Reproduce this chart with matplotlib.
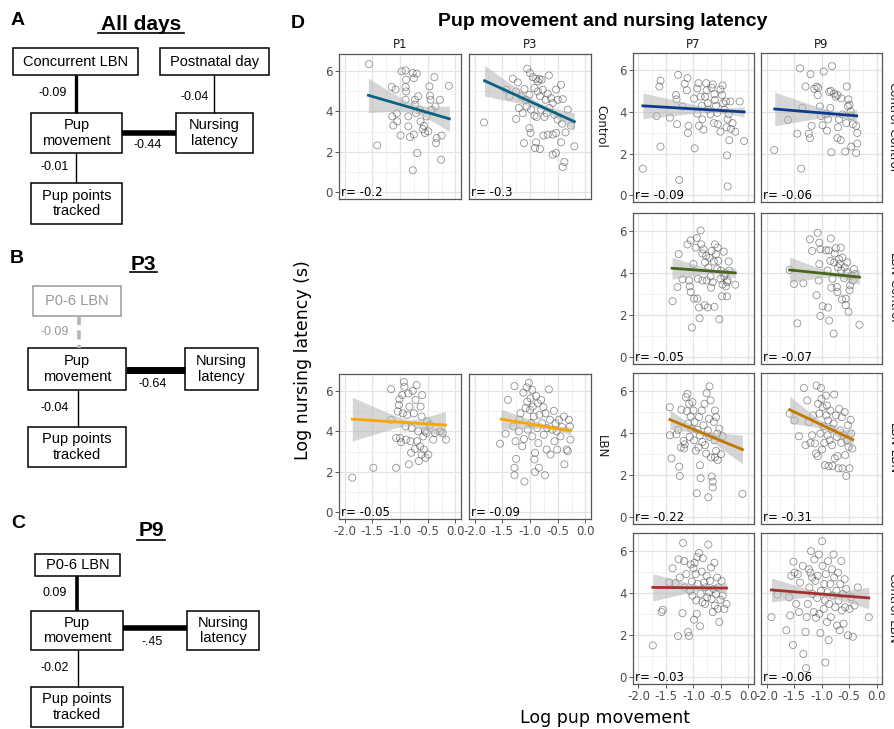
import numpy as np
import matplotlib.pyplot as plt
from matplotlib.patches import Rectangle

W, H = 895, 729

# ---------------- data ----------------
ctrl_p1_x = [-1.56, -1.41, -1.15, -1.08, -1.14, -1.12, -1.06, -1.05, -0.99, -0.97, -0.9, -0.89, -0.9, -0.89,
             -0.9, -0.85, -0.85, -0.82, -0.77, -0.75, -0.7, -0.73, -0.73, -0.71, -0.75, -0.69, -0.77, -0.67,
             -0.64, -0.63, -0.59, -0.57, -0.55, -0.52, -0.47, -0.46, -0.45, -0.49, -0.43, -0.38, -0.36, -0.34,
             -0.35, -0.28, -0.25, -0.26, -0.12]
ctrl_p1_y = [6.33, 2.32, 5.2, 5.07, 3.75, 3.3, 3.9, 3.5, 2.81, 5.97, 6.02, 5.56, 5.2, 4.98,
             4.57, 3.75, 3.26, 2.73, 5.89, 5.64, 5.86, 4.57, 4.33, 3.91, 2.85, 1.94, 1.09, 4.74,
             4.08, 3.5, 3.12, 3.29, 2.93, 3.75, 5.23, 4.77, 4.57, 3.01, 4.08, 5.69, 4.24, 2.68,
             2.43, 4.57, 2.8, 1.61, 5.26]

ctrl_p3_x = [-1.83, -1.31, -1.22, -1.1, -1.05, -1.0, -0.95, -0.89, -0.86, -0.83, -0.79, -0.66, -0.44, -1.43,
             -1.37, -1.25, -1.16, -1.07, -1.01, -0.92, -0.86, -0.82, -0.77, -0.72, -0.68, -0.62, -0.59, -0.53,
             -0.5, -0.41, -0.32, -1.2, -1.25, -1.13, -1.06, -0.98, -0.92, -0.88, -0.8, -0.74, -0.7, -0.65,
             -0.56, -0.5, -0.42, -0.36, -0.26, -1.01, -0.99, -1.11, -0.89, -0.91, -0.82, -0.76, -0.68, -0.59,
             -0.53, -0.44, -0.59, -0.53, -0.38, -0.41, -0.2]
ctrl_p3_y = [3.45, 5.61, 5.43, 5.1, 6.1, 5.89, 5.69, 5.61, 5.48, 5.59, 5.56, 5.77, 5.31, 5.07,
             4.74, 4.98, 4.74, 4.57, 4.82, 5.15, 4.98, 4.74, 5.07, 4.57, 4.87, 4.65, 4.41, 5.07,
             4.57, 4.6, 4.08, 4.16, 3.62, 3.91, 4.24, 4.08, 3.78, 3.72, 4.08, 3.72, 3.91, 4.16,
             3.83, 3.59, 3.39, 2.96, 3.29, 3.17, 2.93, 2.43, 2.47, 2.19, 2.14, 2.8, 2.85, 2.85,
             2.93, 2.47, 1.86, 1.94, 1.5, 1.25, 2.27]

lbn_p1_x = [-1.86, -1.48, -1.16, -1.16, -1.07, -1.07, -1.04, -1.02, -1.01, -1.0, -0.98, -0.96, -0.93, -0.92,
            -0.95, -0.9, -0.89, -0.87, -0.85, -0.84, -0.83, -0.81, -0.8, -0.79, -0.77, -0.75, -0.73, -0.72,
            -0.7, -0.69, -0.67, -0.66, -0.64, -0.63, -0.61, -0.6, -0.58, -0.57, -0.55, -0.54, -0.52, -0.51,
            -0.49, -0.4, -0.37, -0.28, -0.23, -0.17, -0.61, -0.46]
lbn_p1_y = [1.71, 2.2, 6.08, 4.57, 2.2, 3.67, 4.98, 5.3, 5.58, 3.67, 3.46, 5.79, 6.44, 6.2,
            4.89, 4.24, 3.59, 4.81, 5.87, 2.37, 5.22, 3.51, 2.94, 4.16, 6.0, 4.89, 3.13, 5.55,
            6.28, 3.51, 4.0, 2.53, 3.26, 5.22, 2.85, 5.79, 3.75, 3.1, 4.0, 2.69, 3.92, 4.49,
            2.85, 3.59, 3.92, 4.0, 3.92, 3.59, 4.73, 4.32]

lbn_p3_x = [-1.54, -1.4, -1.44, -1.3, -1.28, -1.26, -1.25, -1.28, -1.28, -1.2, -1.19, -1.17, -1.14, -1.12,
            -1.11, -1.1, -1.08, -1.06, -1.05, -1.04, -1.02, -1.0, -0.99, -0.98, -0.96, -0.96, -0.95, -0.93,
            -0.92, -0.91, -0.91, -0.89, -0.87, -0.86, -0.85, -0.84, -0.83, -0.8, -0.78, -0.76, -0.75, -0.73,
            -0.72, -0.7, -0.69, -0.66, -0.64, -0.63, -0.6, -0.57, -0.56, -0.54, -0.52, -0.51, -0.48, -0.45,
            -0.42, -0.39, -0.38, -0.34, -0.32, -0.3, -0.27, -0.28]
lbn_p3_y = [3.39, 5.55, 3.88, 4.24, 6.23, 3.51, 2.64, 2.2, 1.83, 4.0, 4.57, 4.89, 3.26, 5.91,
            3.62, 1.52, 5.14, 6.17, 5.47, 4.08, 6.39, 5.06, 5.63, 4.4, 6.04, 3.75, 5.22, 4.73,
            2.61, 2.94, 1.99, 5.74, 4.16, 5.38, 3.42, 2.2, 4.81, 5.55, 4.4, 5.19, 3.83, 1.83,
            4.89, 3.1, 4.16, 6.07, 4.57, 2.85, 4.08, 5.01, 3.51, 4.4, 4.0, 3.1, 4.57, 3.75,
            4.21, 4.73, 2.37, 3.1, 3.02, 4.57, 3.59, 4.24]

cc_p7_x = [-1.92, -1.67, -1.6, -1.62, -1.6, -1.43, -1.32, -1.31, -1.3, -1.28, -1.26, -1.16, -1.11, -1.12,
           -1.2, -1.09, -1.1, -0.99, -0.98, -0.93, -0.91, -0.93, -0.87, -0.85, -0.84, -0.9, -0.82, -0.77,
           -0.76, -0.79, -0.74, -0.73, -0.69, -0.67, -0.65, -0.62, -0.61, -0.59, -0.57, -0.63, -0.56, -0.51,
           -0.48, -0.46, -0.44, -0.41, -0.51, -0.38, -0.36, -0.4, -0.35, -0.39, -0.38, -0.32, -0.29, -0.24,
           -0.33, -0.16, -0.08, -0.47]
cc_p7_y = [1.27, 3.8, 5.5, 5.22, 2.33, 3.72, 4.81, 4.6, 3.41, 5.78, 0.73, 5.35, 5.63, 5.04,
           4.26, 3.33, 2.99, 4.64, 2.25, 3.92, 5.38, 5.12, 4.73, 4.29, 3.64, 3.33, 3.15, 5.38,
           5.04, 4.73, 4.42, 4.11, 3.88, 5.16, 5.32, 4.85, 4.57, 4.29, 3.95, 3.46, 3.41, 5.07,
           4.81, 4.42, 4.11, 4.5, 3.05, 3.64, 3.88, 3.26, 2.64, 1.91, 0.42, 3.18, 3.46, 3.05,
           4.5, 4.5, 2.6, 5.27]

cc_p9_x = [-1.86, -1.61, -1.44, -1.39, -1.37, -1.35, -1.23, -1.21, -1.2, -1.29, -1.18, -1.13, -1.09, -1.06,
           -1.03, -1.07, -1.01, -0.98, -0.96, -0.92, -0.9, -0.88, -0.86, -0.83, -0.84, -0.82, -0.81, -0.77,
           -0.74, -0.71, -0.71, -0.7, -0.68, -0.65, -0.64, -0.62, -0.57, -0.55, -0.54, -0.52, -0.51, -0.49,
           -0.47, -0.46, -0.43, -0.37, -0.37, -0.35, -0.35, -0.46]
cc_p9_y = [2.17, 3.61, 2.95, 6.09, 1.27, 4.19, 2.95, 2.74, 5.81, 5.22, 3.33, 5.11, 5.22, 5.16,
           4.26, 4.81, 3.8, 3.36, 5.94, 3.88, 3.1, 3.64, 4.96, 5.01, 4.19, 2.06, 6.2, 4.88,
           4.73, 4.81, 2.74, 3.26, 3.64, 2.64, 4.65, 3.88, 2.09, 3.46, 5.22, 4.26, 4.6, 4.34,
           4.03, 2.33, 3.41, 3.33, 2.02, 2.48, 2.99, 3.8]

lc_p7_x = [-1.38, -1.29, -1.27, -1.2, -1.11, -1.08, -1.07, -1.05, -1.05, -1.03, -0.99, -0.96, -1.0, -0.94,
           -0.93, -0.9, -0.92, -0.89, -0.87, -0.86, -0.84, -0.82, -0.8, -0.84, -0.79, -0.77, -0.76, -0.74,
           -0.73, -0.71, -0.69, -0.68, -0.67, -0.65, -0.63, -0.62, -0.61, -0.59, -0.57, -0.56, -0.55, -0.53,
           -0.51, -0.5, -0.48, -0.47, -0.45, -0.44, -0.42, -0.41, -0.39, -0.39, -0.38, -0.36, -0.35, -0.24]
lc_p7_y = [2.65, 3.32, 4.88, 3.68, 5.34, 3.63, 3.35, 3.08, 5.53, 1.4, 2.77, 5.19, 4.41, 5.65,
           2.77, 2.35, 3.71, 1.84, 6.0, 5.34, 4.91, 5.11, 2.46, 3.63, 4.49, 4.8, 3.63, 2.35,
           4.25, 4.7, 3.82, 3.29, 5.03, 3.55, 4.53, 2.38, 5.34, 4.88, 4.17, 5.19, 4.56, 1.79,
           3.71, 4.1, 2.88, 3.44, 5.0, 3.82, 3.97, 3.35, 2.88, 3.55, 3.63, 4.53, 4.1, 3.43]

lc_p9_x = [-1.58, -1.5, -1.44, -1.33, -1.21, -1.17, -1.07, -1.04, -1.02, -1.09, -1.05, -1.04, -0.98, -1.02,
           -0.92, -0.89, -0.88, -0.87, -0.86, -0.84, -0.83, -0.82, -0.8, -0.78, -0.77, -0.76, -0.74, -0.72,
           -0.71, -0.7, -0.68, -0.67, -0.64, -0.63, -0.62, -0.59, -0.58, -0.56, -0.56, -0.54, -0.53, -0.51,
           -0.49, -0.48, -0.46, -0.43, -0.41, -0.39, -0.31, -0.65]
lc_p9_y = [4.13, 3.47, 1.6, 3.5, 5.58, 5.03, 5.89, 5.42, 5.11, 2.93, 3.63, 4.41, 2.41, 1.95,
           5.06, 4.1, 2.35, 5.06, 1.73, 4.56, 5.62, 3.29, 3.71, 1.11, 4.49, 4.91, 5.16, 3.32,
           3.08, 4.25, 4.64, 4.41, 4.1, 2.73, 4.72, 3.74, 4.25, 2.77, 2.46, 4.02, 4.49, 2.15,
           3.16, 3.4, 3.85, 3.63, 4.17, 3.94, 1.53, 5.19]

ll_p7_x = [-1.43, -1.43, -1.4, -1.31, -1.28, -1.26, -1.25, -1.23, -1.22, -1.18, -1.17, -1.16, -1.14, -1.12,
           -1.11, -1.1, -1.08, -1.07, -1.05, -1.04, -1.02, -1.0, -0.99, -0.98, -0.96, -0.94, -0.93, -0.91,
           -0.9, -0.88, -0.88, -0.87, -0.85, -0.84, -0.82, -0.8, -0.79, -0.77, -0.76, -0.74, -0.73, -0.72,
           -0.71, -0.71, -0.69, -0.68, -0.67, -0.65, -0.65, -0.63, -0.62, -0.61, -0.59, -0.59, -0.57, -0.61,
           -0.56, -0.53, -0.5, -0.47, -0.11]
ll_p7_y = [5.21, 3.88, 2.78, 3.92, 4.14, 2.39, 1.95, 3.3, 5.09, 3.61, 3.25, 3.45, 5.68, 5.02,
           5.84, 4.43, 5.37, 3.8, 4.77, 4.19, 5.45, 5.05, 3.64, 4.51, 3.14, 1.13, 4.14, 3.3,
           4.74, 3.88, 2.46, 1.84, 5.05, 3.56, 4.35, 5.37, 3.41, 3.01, 5.87, 4.11, 0.94, 4.66,
           3.8, 6.2, 5.53, 2.83, 1.92, 1.68, 1.41, 4.51, 3.64, 5.05, 4.74, 3.14, 3.96, 2.83,
           2.7, 4.19, 2.98, 3.83, 1.1]

ll_p9_x = [-1.58, -1.49, -1.41, -1.32, -1.29, -1.26, -1.23, -1.2, -1.17, -1.15, -1.12, -1.1, -1.09, -1.07,
           -1.06, -1.04, -1.02, -1.01, -1.0, -0.99, -0.98, -0.96, -0.95, -0.94, -0.92, -0.91, -0.9, -0.89,
           -0.88, -0.87, -0.85, -0.84, -0.82, -0.81, -0.8, -0.78, -0.77, -0.76, -0.74, -0.72, -0.71, -0.69,
           -0.68, -0.66, -0.64, -0.63, -0.62, -0.6, -0.58, -0.57, -0.55, -0.54, -0.52, -0.51, -0.47, -0.46,
           -0.44, -0.49]
ll_p9_y = [4.9, 4.58, 3.83, 6.12, 3.41, 5.53, 4.51, 3.52, 3.88, 4.82, 3.49, 3.01, 6.23, 2.89,
           5.37, 4.9, 3.96, 6.12, 5.6, 3.2, 5.21, 4.3, 3.52, 2.46, 5.76, 4.82, 5.29, 3.88,
           4.58, 2.42, 3.64, 5.05, 4.19, 3.41, 2.42, 4.43, 5.81, 2.78, 4.82, 3.8, 2.89, 2.31,
           5.13, 4.11, 3.52, 4.74, 2.31, 3.88, 4.98, 2.94, 1.95, 3.64, 4.35, 3.33, 4.61, 3.96,
           3.25, 2.31]

cl_p7_x = [-1.74, -1.58, -1.56, -1.44, -1.38, -1.33, -1.28, -1.27, -1.25, -1.2, -1.19, -1.17, -1.16, -1.13,
           -1.1, -1.08, -1.06, -1.05, -1.03, -1.02, -1.0, -0.99, -0.98, -0.96, -0.95, -0.94, -0.93, -0.92,
           -0.9, -0.88, -0.87, -0.85, -0.84, -0.83, -0.81, -0.79, -0.78, -0.76, -0.75, -0.73, -0.72, -0.7,
           -0.68, -0.67, -0.65, -0.64, -0.62, -0.61, -0.59, -0.57, -0.56, -0.55, -0.53, -0.51, -0.49, -0.47,
           -0.44, -0.4]
cl_p7_y = [1.5, 3.08, 3.19, 4.48, 5.16, 4.45, 1.94, 5.58, 4.72, 3.03, 6.36, 5.5, 4.25, 4.88,
           2.14, 1.95, 4.09, 5.34, 4.53, 3.86, 5.16, 2.72, 5.42, 4.88, 3.63, 3.0, 5.69, 4.41,
           5.89, 2.41, 3.94, 5.0, 3.55, 5.63, 4.48, 3.47, 4.25, 4.8, 3.78, 6.28, 4.02, 4.56,
           5.19, 3.7, 3.08, 4.17, 5.42, 3.39, 3.94, 4.72, 3.23, 4.25, 2.61, 3.66, 4.56, 3.86,
           3.23, 3.47]

cl_p9_x = [-1.91, -1.8, -1.64, -1.59, -1.57, -1.55, -1.52, -1.51, -1.49, -1.46, -1.43, -1.41, -1.39, -1.34,
           -1.33, -1.29, -1.28, -1.27, -1.25, -1.23, -1.22, -1.2, -1.19, -1.17, -1.16, -1.14, -1.13, -1.11,
           -1.1, -1.08, -1.07, -1.05, -1.04, -1.02, -1.01, -0.99, -0.98, -0.96, -0.95, -0.94, -0.93, -0.92,
           -0.9, -0.89, -0.88, -0.87, -0.86, -0.84, -0.83, -0.81, -0.8, -0.78, -0.77, -0.75, -0.73, -0.72,
           -0.7, -0.69, -0.67, -0.66, -0.64, -0.63, -0.61, -0.6, -0.58, -0.57, -0.55, -0.52, -0.49, -0.46,
           -0.43, -0.4, -0.34, -0.14]
cl_p9_y = [2.84, 3.91, 2.22, 3.78, 2.92, 4.8, 1.52, 5.47, 4.95, 3.47, 4.88, 3.08, 4.48, 5.27,
           1.09, 2.14, 0.42, 2.84, 3.47, 5.11, 4.25, 4.95, 5.97, 4.72, 3.94, 3.08, 5.58, 4.56,
           2.81, 3.75, 4.8, 5.81, 3.0, 2.09, 4.09, 6.44, 5.27, 3.23, 4.41, 3.63, 0.69, 4.88,
           2.61, 4.02, 5.5, 1.75, 3.47, 4.41, 2.84, 5.11, 3.86, 5.81, 4.72, 3.31, 4.09, 2.45,
           4.95, 3.63, 2.22, 4.41, 5.5, 3.16, 3.94, 2.53, 4.64, 3.31, 4.17, 1.98, 3.23, 3.78,
           1.91, 3.39, 4.25, 2.84]

# fitted line [x start, x end, y start, y end] and band half-widths [left, narrowest, right]
ctrl_p1_fit, ctrl_p1_band = [-1.57, -0.11, 4.79, 3.63], [0.85, 0.22, 0.63]
ctrl_p3_fit, ctrl_p3_band = [-1.82, -0.20, 5.51, 3.49], [0.76, 0.15, 0.43]
lbn_p1_fit, lbn_p1_band = [-1.86, -0.18, 4.60, 4.31], [1.08, 0.15, 0.68]
lbn_p3_fit, lbn_p3_band = [-1.52, -0.27, 4.60, 4.03], [0.49, 0.10, 0.20]
cc_p7_fit, cc_p7_band = [-1.92, -0.08, 4.29, 4.00], [0.62, 0.12, 0.25]
cc_p9_fit, cc_p9_band = [-1.85, -0.36, 4.14, 3.81], [0.81, 0.15, 0.30]
lc_p7_fit, lc_p7_band = [-1.39, -0.24, 4.21, 3.99], [0.52, 0.10, 0.25]
lc_p9_fit, lc_p9_band = [-1.58, -0.31, 4.13, 3.79], [0.61, 0.12, 0.35]
ll_p7_fit, ll_p7_band = [-1.43, -0.11, 4.62, 3.20], [0.47, 0.13, 0.68]
ll_p9_fit, ll_p9_band = [-1.58, -0.43, 5.09, 3.67], [0.64, 0.15, 0.43]
cl_p7_fit, cl_p7_band = [-1.74, -0.40, 4.25, 4.22], [0.65, 0.10, 0.27]
cl_p9_fit, cl_p9_band = [-1.91, -0.14, 4.13, 3.75], [0.57, 0.10, 0.51]

r_labels = {
    'ctrl_p1': 'r= -0.2', 'ctrl_p3': 'r= -0.3', 'lbn_p1': 'r= -0.05', 'lbn_p3': 'r= -0.09',
    'cc_p7': 'r= -0.09', 'cc_p9': 'r= -0.06', 'lc_p7': 'r= -0.05', 'lc_p9': 'r= -0.07',
    'll_p7': 'r= -0.22', 'll_p9': 'r= -0.31', 'cl_p7': 'r= -0.03', 'cl_p9': 'r= -0.06',
}
days_left = ['P1', 'P3']
days_right = ['P7', 'P9']
groups_left = ['Control', 'LBN']
groups_right = ['Control-Control', 'LBN-Control', 'LBN-LBN', 'Control-LBN']
group_colors = {'Control': '#0b6283', 'LBN': '#f7a800', 'Control-Control': '#0d3a8e',
                'LBN-Control': '#46661c', 'LBN-LBN': '#c27800', 'Control-LBN': '#a3322e'}

# ---------------- figure ----------------
fig = plt.figure(figsize=(W / 100, H / 100), dpi=100)
bg = fig.add_axes([0, 0, 1, 1])
bg.set_xlim(0, W)
bg.set_ylim(H, 0)
bg.axis('off')

SANS = 'Liberation Sans'


def px_axes(x0, x1, y0, y1):
    return fig.add_axes([x0 / W, 1 - y1 / H, (x1 - x0) / W, (y1 - y0) / H])


def draw_panel(ax, key, group, show_x, show_y):
    xs = np.array(globals()[key + '_x'])
    ys = np.array(globals()[key + '_y'])
    fx0, fx1, fy0, fy1 = globals()[key + '_fit']
    hl, h0, hr = globals()[key + '_band']
    # narrowest point of the band
    r = np.sqrt((hl ** 2 - h0 ** 2) / (hr ** 2 - h0 ** 2))
    xm = (fx0 + r * fx1) / (1 + r)
    B = (hl ** 2 - h0 ** 2) / (fx0 - xm) ** 2
    xx = np.linspace(fx0, fx1, 120)
    yy = fy0 + (fy1 - fy0) * (xx - fx0) / (fx1 - fx0)
    hw = np.sqrt(h0 ** 2 + B * (xx - xm) ** 2)

    ax.set_facecolor('white')
    ax.set_xlim(-2.1, 0.1)
    ax.set_ylim(-0.33, 6.83)
    ax.set_xticks([-2.0, -1.5, -1.0, -0.5, 0.0])
    ax.set_xticks([-1.75, -1.25, -0.75, -0.25], minor=True)
    ax.set_yticks([0, 2, 4, 6])
    ax.set_yticks([1, 3, 5], minor=True)
    ax.grid(True, which='major', color='#e3e3e3', lw=0.9)
    ax.grid(True, which='minor', color='#f0f0f0', lw=0.6)
    ax.set_axisbelow(True)
    ax.scatter(xs, ys, s=26, facecolors='none', edgecolors='#4a4a4a', linewidths=0.6, alpha=0.6, zorder=2)
    ax.fill_between(xx, yy - hw, yy + hw, color='#b5b5b5', alpha=0.55, lw=0, zorder=3)
    ax.plot(xx, yy, color=group_colors[group], lw=2.0, zorder=4)
    ax.text(-2.07, 0.0, r_labels[key], fontsize=8.5, ha='left', va='center', color='black', zorder=5)
    for s in ax.spines.values():
        s.set_color('#555555')
        s.set_linewidth(0.9)
    ax.tick_params(which='major', length=3, width=0.7, color='#555555', labelsize=8.5,
                   labelcolor='#4d4d4d', pad=1.5)
    ax.tick_params(which='minor', length=0)
    if show_x:
        ax.set_xticklabels(['-2.0', '-1.5', '-1.0', '-0.5', '0.0'])
    else:
        ax.set_xticklabels([])
        ax.tick_params(axis='x', length=0)
    if show_y:
        ax.set_yticklabels(['0', '2', '4', '6'])
    else:
        ax.set_yticklabels([])
        ax.tick_params(axis='y', length=0)


left_cols = [(339, 461), (469, 591)]
left_rows = [(54, 199), (374, 519)]
right_cols = [(633, 754), (761, 882)]
right_rows = [(53, 202), (213, 364), (373, 524), (533, 684)]
left_keys = [['ctrl_p1', 'ctrl_p3'], ['lbn_p1', 'lbn_p3']]
right_keys = [['cc_p7', 'cc_p9'], ['lc_p7', 'lc_p9'], ['ll_p7', 'll_p9'], ['cl_p7', 'cl_p9']]

for i, (y0, y1) in enumerate(left_rows):
    for j, (x0, x1) in enumerate(left_cols):
        ax = px_axes(x0, x1, y0, y1)
        draw_panel(ax, left_keys[i][j], groups_left[i], show_x=(i == 1), show_y=(j == 0))
    bg.text(601, (y0 + y1) / 2, groups_left[i], rotation=270, ha='center', va='center',
            fontsize=8.5, color='#1a1a1a')
for i, (y0, y1) in enumerate(right_rows):
    for j, (x0, x1) in enumerate(right_cols):
        ax = px_axes(x0, x1, y0, y1)
        draw_panel(ax, right_keys[i][j], groups_right[i], show_x=(i == 3), show_y=(j == 0))
    bg.text(893, (y0 + y1) / 2, groups_right[i], rotation=270, ha='center', va='center',
            fontsize=8.5, color='#1a1a1a')

for (x0, x1), d in zip(left_cols, days_left):
    bg.text((x0 + x1) / 2, 44, d, ha='center', va='center', fontsize=8.5, color='#1a1a1a')
for (x0, x1), d in zip(right_cols, days_right):
    bg.text((x0 + x1) / 2, 44, d, ha='center', va='center', fontsize=8.5, color='#1a1a1a')

bg.text(603, 21, 'Pup movement and nursing latency', ha='center', va='center', fontsize=14,
        fontweight='bold', family=SANS)
bg.text(298, 23, 'D', ha='center', va='center', fontsize=14, fontweight='bold', family=SANS)
bg.text(303, 360, 'Log nursing latency (s)', rotation=90, ha='center', va='center', fontsize=12.5)
bg.text(605, 718, 'Log pup movement', ha='center', va='center', fontsize=12.5)


# ---------------- path diagrams A, B, C ----------------
def box(x0, y0, x1, y1, label, color='black'):
    bg.add_patch(Rectangle((x0, y0), x1 - x0, y1 - y0, fill=False, ec=color, lw=1.1))
    bg.text((x0 + x1) / 2, (y0 + y1) / 2, label, ha='center', va='center', fontsize=10.5,
            family=SANS, color=color, linespacing=1.15)


def link(x0, y0, x1, y1, lw, color='black', ls='-'):
    bg.plot([x0, x1], [y0, y1], color=color, lw=lw, ls=ls, solid_capstyle='butt')


def coef(x, y, label, color='black'):
    bg.text(x, y, label, ha='center', va='center', fontsize=9, family=SANS, color=color)


def heading(x, y, label, x0, x1, uy):
    bg.text(x, y, label, ha='center', va='center', fontsize=15, fontweight='bold', family=SANS)
    bg.plot([x0, x1], [uy, uy], color='black', lw=1.2)


# A
bg.text(18, 20, 'A', ha='center', va='center', fontsize=14, fontweight='bold', family=SANS)
heading(141, 24, 'All days', 98, 184, 33)
box(13, 48, 138, 75, 'Concurrent LBN')
box(160, 48, 269, 75, 'Postnatal day')
box(31, 113, 122, 153, 'Pup\nmovement')
box(176, 113, 253, 153, 'Nursing\nlatency')
box(31, 183, 122, 224, 'Pup points\ntracked')
link(76, 75, 76, 113, 2.4)
link(214, 75, 214, 113, 1.0)
link(122, 133, 176, 133, 4.0)
link(76, 153, 76, 183, 1.0)
coef(53, 93, '-0.09')
coef(195, 97, '-0.04')
coef(148, 145, '-0.44')
coef(55, 167, '-0.01')

# B
bg.text(17, 258, 'B', ha='center', va='center', fontsize=14, fontweight='bold', family=SANS)
heading(143, 264, 'P3', 130, 157, 272)
box(33, 286, 121, 316, 'P0-6 LBN', color='#999999')
box(28, 348, 126, 390, 'Pup\nmovement')
box(185, 348, 258, 390, 'Nursing\nlatency')
box(28, 427, 126, 467, 'Pup points\ntracked')
link(79, 316, 79, 348, 2.6, color='#b5b5b5', ls=(0, (2.5, 1.5)))
link(126, 370, 185, 370, 5.0)
link(78, 390, 78, 427, 1.0)
coef(55, 332, '-0.09', color='#999999')
coef(153, 384, '-0.64')
coef(55, 408, '-0.04')

# C
bg.text(18, 523, 'C', ha='center', va='center', fontsize=14, fontweight='bold', family=SANS)
heading(151, 531, 'P9', 137, 165, 540)
box(35, 554, 120, 576, 'P0-6 LBN')
box(31, 611, 123, 650, 'Pup\nmovement')
box(187, 611, 259, 650, 'Nursing\nlatency')
box(31, 687, 123, 727, 'Pup points\ntracked')
link(77, 576, 77, 611, 2.6)
link(123, 628, 187, 628, 4.0)
link(78, 650, 78, 687, 1.0)
coef(55, 593, '0.09')
coef(152, 642, '-.45')
coef(55, 668, '-0.02')

fig.savefig('out.png', dpi=100)
